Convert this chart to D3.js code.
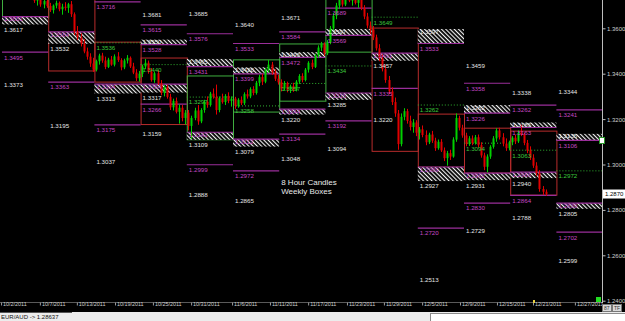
<!DOCTYPE html>
<html>
<head>
<meta charset="utf-8">
<script src="https://cdn.jsdelivr.net/npm/d3@7"></script>
<style>
body { margin: 0; background: #000; }
svg { display: block; }
text { font-family: "Liberation Sans", Arial, sans-serif; }
</style>
</head>
<body>
<svg id="chart" width="625" height="321"></svg>
<script>
// ---- data ----
var barsPerWeek = 15;
var firstBar = 10;

// 8 hour candles [open, high, low, close], starting at bar firstBar
var candles = [
  [1.3760,1.3775,1.3712,1.3722],[1.3722,1.3745,1.3700,1.3738],[1.3738,1.3752,1.3695,1.3705],[1.3705,1.3730,1.3688,1.3720],[1.3720,1.3735,1.3690,1.3698],
  // week 1
  [1.3698,1.3712,1.3672,1.3680],[1.3680,1.3705,1.3665,1.3700],[1.3700,1.3722,1.3688,1.3712],[1.3712,1.3718,1.3675,1.3684],[1.3684,1.3708,1.3660,1.3695],
  [1.3695,1.3715,1.3678,1.3690],[1.3690,1.3712,1.3668,1.3706],[1.3706,1.3720,1.3650,1.3662],[1.3662,1.3670,1.3570,1.3585],[1.3585,1.3610,1.3548,1.3560],
  [1.3560,1.3578,1.3520,1.3532],[1.3532,1.3552,1.3490,1.3498],[1.3498,1.3515,1.3462,1.3475],[1.3475,1.3490,1.3430,1.3445],[1.3445,1.3470,1.3408,1.3418],
  // week 2
  [1.3418,1.3462,1.3410,1.3455],[1.3455,1.3488,1.3440,1.3480],[1.3480,1.3492,1.3448,1.3458],[1.3458,1.3475,1.3420,1.3430],[1.3430,1.3470,1.3425,1.3462],
  [1.3462,1.3478,1.3435,1.3440],[1.3440,1.3485,1.3432,1.3476],[1.3476,1.3495,1.3452,1.3460],[1.3460,1.3468,1.3415,1.3428],[1.3428,1.3466,1.3420,1.3458],
  [1.3458,1.3482,1.3445,1.3470],[1.3470,1.3476,1.3425,1.3432],[1.3432,1.3448,1.3398,1.3405],[1.3405,1.3420,1.3368,1.3380],[1.3380,1.3412,1.3365,1.3400],
  // week 3
  [1.3400,1.3440,1.3385,1.3432],[1.3432,1.3465,1.3420,1.3448],[1.3448,1.3458,1.3400,1.3410],[1.3410,1.3425,1.3365,1.3372],[1.3372,1.3410,1.3360,1.3402],
  [1.3402,1.3415,1.3350,1.3358],[1.3358,1.3372,1.3305,1.3315],[1.3315,1.3350,1.3300,1.3340],[1.3340,1.3352,1.3290,1.3298],[1.3298,1.3312,1.3240,1.3252],
  [1.3252,1.3290,1.3238,1.3280],[1.3280,1.3295,1.3225,1.3232],[1.3232,1.3265,1.3180,1.3250],[1.3250,1.3262,1.3190,1.3205],[1.3205,1.3240,1.3176,1.3228],
  // week 4
  [1.3228,1.3240,1.3150,1.3170],[1.3170,1.3215,1.3112,1.3205],[1.3205,1.3250,1.3195,1.3238],[1.3238,1.3262,1.3175,1.3190],[1.3190,1.3248,1.3182,1.3240],
  [1.3240,1.3285,1.3228,1.3276],[1.3276,1.3300,1.3250,1.3262],[1.3262,1.3320,1.3255,1.3312],[1.3312,1.3335,1.3290,1.3298],[1.3298,1.3352,1.3220,1.3240],
  [1.3240,1.3300,1.3230,1.3292],[1.3292,1.3312,1.3268,1.3275],[1.3275,1.3310,1.3262,1.3302],[1.3302,1.3318,1.3270,1.3280],[1.3280,1.3300,1.3255,1.3290],
  // week 5
  [1.3290,1.3298,1.3245,1.3258],[1.3258,1.3292,1.3250,1.3285],[1.3285,1.3300,1.3262,1.3270],[1.3270,1.3318,1.3262,1.3310],[1.3310,1.3330,1.3290,1.3300],
  [1.3300,1.3340,1.3292,1.3332],[1.3332,1.3345,1.3305,1.3315],[1.3315,1.3368,1.3308,1.3360],[1.3360,1.3395,1.3345,1.3385],[1.3385,1.3400,1.3350,1.3365],
  [1.3365,1.3425,1.3358,1.3418],[1.3418,1.3460,1.3405,1.3440],[1.3440,1.3452,1.3395,1.3405],[1.3405,1.3420,1.3368,1.3378],[1.3378,1.3395,1.3352,1.3362],
  // week 6
  [1.3362,1.3375,1.3322,1.3335],[1.3335,1.3368,1.3325,1.3358],[1.3358,1.3365,1.3318,1.3330],[1.3330,1.3352,1.3315,1.3345],[1.3345,1.3360,1.3320,1.3328],
  [1.3328,1.3372,1.3322,1.3365],[1.3365,1.3398,1.3355,1.3390],[1.3390,1.3402,1.3362,1.3372],[1.3372,1.3425,1.3366,1.3418],[1.3418,1.3455,1.3405,1.3448],
  [1.3448,1.3462,1.3420,1.3430],[1.3430,1.3488,1.3425,1.3480],[1.3480,1.3525,1.3470,1.3515],[1.3515,1.3540,1.3500,1.3530],[1.3530,1.3538,1.3478,1.3490],
  // week 7
  [1.3490,1.3548,1.3482,1.3540],[1.3540,1.3610,1.3530,1.3600],[1.3600,1.3668,1.3590,1.3655],[1.3655,1.3712,1.3640,1.3700],[1.3700,1.3740,1.3685,1.3728],
  [1.3728,1.3745,1.3695,1.3705],[1.3705,1.3738,1.3698,1.3730],[1.3730,1.3760,1.3715,1.3722],[1.3722,1.3750,1.3700,1.3740],[1.3740,1.3755,1.3705,1.3712],
  [1.3712,1.3735,1.3690,1.3725],[1.3725,1.3738,1.3680,1.3690],[1.3690,1.3702,1.3640,1.3652],[1.3652,1.3668,1.3600,1.3612],[1.3612,1.3630,1.3575,1.3595],
  // week 8
  [1.3595,1.3610,1.3548,1.3560],[1.3560,1.3572,1.3502,1.3512],[1.3512,1.3530,1.3455,1.3468],[1.3468,1.3485,1.3410,1.3420],[1.3420,1.3440,1.3360,1.3372],
  [1.3372,1.3390,1.3310,1.3322],[1.3322,1.3340,1.3262,1.3275],[1.3275,1.3295,1.3210,1.3225],[1.3225,1.3240,1.3065,1.3090],[1.3090,1.3225,1.3080,1.3210],
  [1.3210,1.3248,1.3195,1.3235],[1.3235,1.3245,1.3180,1.3192],[1.3192,1.3215,1.3150,1.3165],[1.3165,1.3200,1.3140,1.3185],[1.3185,1.3195,1.3125,1.3140],
  // week 9
  [1.3140,1.3165,1.3110,1.3155],[1.3155,1.3172,1.3120,1.3130],[1.3130,1.3150,1.3085,1.3098],[1.3098,1.3140,1.3090,1.3132],[1.3132,1.3148,1.3095,1.3105],
  [1.3105,1.3118,1.3060,1.3072],[1.3072,1.3110,1.3065,1.3100],[1.3100,1.3112,1.3055,1.3062],[1.3062,1.3075,1.3015,1.3028],[1.3028,1.3060,1.2995,1.3050],
  [1.3050,1.3065,1.3020,1.3035],[1.3035,1.3120,1.3030,1.3110],[1.3110,1.3225,1.3100,1.3205],[1.3205,1.3215,1.3150,1.3162],[1.3162,1.3175,1.3118,1.3128],
  // week 10
  [1.3128,1.3140,1.3080,1.3090],[1.3090,1.3125,1.3082,1.3115],[1.3115,1.3128,1.3085,1.3095],[1.3095,1.3130,1.3088,1.3120],[1.3120,1.3132,1.3075,1.3085],
  [1.3085,1.3098,1.3030,1.3040],[1.3040,1.3052,1.2975,1.2990],[1.2990,1.3045,1.2965,1.3035],[1.3035,1.3085,1.3025,1.3078],[1.3078,1.3125,1.3070,1.3115],
  [1.3115,1.3160,1.3100,1.3150],[1.3150,1.3162,1.3110,1.3120],[1.3120,1.3138,1.3080,1.3092],[1.3092,1.3115,1.3060,1.3072],[1.3072,1.3105,1.3062,1.3098],
  // week 11 (current)
  [1.3098,1.3125,1.3085,1.3118],[1.3118,1.3130,1.3090,1.3102],[1.3102,1.3150,1.3095,1.3140],[1.3140,1.3175,1.3125,1.3132],[1.3132,1.3140,1.3085,1.3095],
  [1.3095,1.3108,1.3050,1.3062],[1.3062,1.3080,1.3020,1.3030],[1.3030,1.3045,1.2985,1.2995],[1.2995,1.3010,1.2950,1.2962],[1.2962,1.2975,1.2880,1.2892],
  [1.2892,1.2905,1.2866,1.2880],[1.2880,1.2890,1.2862,1.2870]
];

// weekly boxes [week, top, bottom, direction]
var weekBoxes = [
  [0,1.3800,1.3650,"up"],[1,1.3740,1.3412,"down"],[2,1.3539,1.3363,"down"],[3,1.3469,1.3176,"down"],
  [4,1.3390,1.3109,"up"],[5,1.3461,1.3231,"up"],[6,1.3531,1.3279,"up"],[7,1.3760,1.3495,"up"],
  [8,1.3601,1.3058,"down"],[9,1.3222,1.2988,"down"],[10,1.3160,1.2962,"down"],[11,1.3147,1.2865,"down"]
];

// hatched zones [week, top, bottom]
var upperZones = [
  [3,1.3550,1.3528],[4,1.3465,1.3431],[5,1.3428,1.3399],[6,1.3495,1.3472],[7,1.3597,1.3569],
  [9,1.3597,1.3533],[10,1.3262,1.3226],[11,1.3185,1.3163],[12,1.3135,1.3106]
];
var lowerZones = [
  [0,1.3651,1.3617],[1,1.3584,1.3532],[2,1.3354,1.3313],[3,1.3354,1.3317],[4,1.3142,1.3109],
  [5,1.3112,1.3079],[6,1.3244,1.3220],[7,1.3315,1.3285],[8,1.3491,1.3457],[9,1.2989,1.2927],
  [10,1.2962,1.2931],[11,1.2966,1.2940],[12,1.2830,1.2805]
];

// magenta level lines [week, value]
var magentaLevels = [
  [0,1.3495],[1,1.3363],[2,1.3716],[2,1.3175],[3,1.3615],[3,1.3266],[4,1.3576],[4,1.2999],
  [5,1.3533],[5,1.2972],[6,1.3584],[6,1.3134],[7,1.3689],[7,1.3192],[8,1.3335],[9,1.2720],
  [10,1.3358],[10,1.2830],[11,1.3262],[11,1.2864],[12,1.3241],[12,1.2702]
];

// white projected levels [week, value]
var whiteLevels = [
  [0,1.3373],[1,1.3195],[2,1.3037],[3,1.3681],[3,1.3159],[4,1.3685],[4,1.2888],[5,1.3640],
  [5,1.2865],[6,1.3671],[6,1.3048],[7,1.3094],[8,1.3220],[9,1.2513],[10,1.3459],[10,1.2729],
  [11,1.3338],[11,1.2788],[12,1.3344],[12,1.2599]
];

// green dotted open levels [week, value]
var openLevels = [
  [2,1.3536],[3,1.3440],[4,1.3297],[5,1.3258],[6,1.3357],[7,1.3434],[8,1.3649],
  [9,1.3262],[10,1.3094],[11,1.3063],[12,1.2972]
];

var priceTicks = [1.24, 1.26, 1.28, 1.30, 1.32, 1.34, 1.36];
var dateLabels = ["10/2/2011","10/7/2011","10/13/2011","10/19/2011","10/25/2011","10/31/2011","11/6/2011","11/11/2011",
  "11/17/2011","11/23/2011","11/29/2011","12/5/2011","12/9/2011","12/15/2011","12/21/2011","12/27/2011"];
var dateTickBars = [-0.3,12.3,24.3,36.7,49,61.4,74.7,87,99.4,112,124,136.4,148.7,160.7,172.4,186];
var lastPrice = 1.2870;
var symbolText = "EUR/AUD -> 1.28637";
var noteLines = ["8 Hour Candles", "Weekly Boxes"];

// ---- chart ----
var plotW = 602, plotH = 303;
var upCol = "#00d000", downCol = "#e00000";
var magLine = "#9a2e9a", magText = "#c447c4", whiteText = "#e4e4e4", greenText = "#3cc83c";

var x = d3.scaleLinear().domain([0, 13 * barsPerWeek]).range([2, 602.6]);
var y = d3.scaleLinear().domain([1.24, 1.36]).range([300.7, 28.3]);

function wx0(w) { return x(w * barsPerWeek); }
function wx1(w) { return x((w + 1) * barsPerWeek); }

var svg = d3.select("#chart");
svg.append("rect").attr("width", 625).attr("height", 321).attr("fill", "#000");

var defs = svg.append("defs");
defs.append("clipPath").attr("id", "plot")
    .append("rect").attr("width", plotW).attr("height", plotH);
var pat = defs.append("pattern").attr("id", "hatch")
    .attr("width", 3).attr("height", 3)
    .attr("patternUnits", "userSpaceOnUse")
    .attr("patternTransform", "rotate(-45)");
pat.append("rect").attr("width", 3).attr("height", 3).attr("fill", "#000");
pat.append("line").attr("x1", 0.6).attr("y1", 0).attr("x2", 0.6).attr("y2", 3)
    .attr("stroke", "#fff").attr("stroke-width", 1.1);

var g = svg.append("g").attr("clip-path", "url(#plot)");

// weekly boxes
g.selectAll(".box").data(weekBoxes).join("rect")
    .attr("class", "box")
    .attr("x", function(d) { return wx0(d[0]) + 0.5; })
    .attr("y", function(d) { return y(d[1]); })
    .attr("width", function(d) { return wx1(d[0]) - wx0(d[0]); })
    .attr("height", function(d) { return y(d[2]) - y(d[1]); })
    .attr("fill", "none")
    .attr("stroke", function(d) { return d[3] === "up" ? "#3fae3f" : "#b82c2c"; })
    .attr("stroke-width", 1);

// open levels (dotted green)
g.selectAll(".open").data(openLevels).join("line")
    .attr("class", "open")
    .attr("x1", function(d) { return wx0(d[0]); })
    .attr("x2", function(d) { return wx1(d[0]); })
    .attr("y1", function(d) { return y(d[1]); })
    .attr("y2", function(d) { return y(d[1]); })
    .attr("stroke", "#2fb02f").attr("stroke-dasharray", "1,2");

// hatched zones
var zones = upperZones.map(function(d) { return { w: d[0], top: d[1], bot: d[2], upper: true }; })
    .concat(lowerZones.map(function(d) { return { w: d[0], top: d[1], bot: d[2], upper: false }; }));

g.selectAll(".zone").data(zones).join("rect")
    .attr("class", "zone")
    .attr("x", function(d) { return wx0(d.w); })
    .attr("y", function(d) { return y(d.top); })
    .attr("width", function(d) { return wx1(d.w) - wx0(d.w); })
    .attr("height", function(d) { return y(d.bot) - y(d.top); })
    .attr("fill", "url(#hatch)");

g.selectAll(".zoneEdge").data(zones).join("line")
    .attr("class", "zoneEdge")
    .attr("x1", function(d) { return wx0(d.w); })
    .attr("x2", function(d) { return wx1(d.w); })
    .attr("y1", function(d) { return y(d.upper ? d.bot : d.top); })
    .attr("y2", function(d) { return y(d.upper ? d.bot : d.top); })
    .attr("stroke", magLine).attr("stroke-width", 1.2);

// magenta lines
g.selectAll(".mag").data(magentaLevels).join("line")
    .attr("class", "mag")
    .attr("x1", function(d) { return wx0(d[0]); })
    .attr("x2", function(d) { return wx1(d[0]); })
    .attr("y1", function(d) { return y(d[1]); })
    .attr("y2", function(d) { return y(d[1]); })
    .attr("stroke", magLine).attr("stroke-width", 1.2);

// candles
var cg = g.selectAll(".candle").data(candles).join("g").attr("class", "candle");
cg.append("line")
    .attr("x1", function(d, i) { return Math.round(x(firstBar + i + 0.5)) + 0.5; })
    .attr("x2", function(d, i) { return Math.round(x(firstBar + i + 0.5)) + 0.5; })
    .attr("y1", function(d) { return y(d[1]); })
    .attr("y2", function(d) { return y(d[2]); })
    .attr("stroke", function(d) { return d[3] >= d[0] ? upCol : downCol; });
cg.append("rect")
    .attr("x", function(d, i) { return Math.round(x(firstBar + i + 0.5)) - 0.5; })
    .attr("y", function(d) { return y(Math.max(d[0], d[3])); })
    .attr("width", 2)
    .attr("height", function(d) { return Math.max(1, Math.abs(y(d[0]) - y(d[3]))); })
    .attr("fill", function(d) { return d[3] >= d[0] ? upCol : downCol; });

// level labels; inside = label sits inside a hatched zone, just under its top
function addLabels(data, val, color, inside) {
    g.selectAll(null).data(data).join("text")
        .attr("x", function(d) { return wx0(d[0]) + 2; })
        .attr("y", function(d) { return y(val(d)) + (inside ? 4.6 : 7.4); })
        .attr("font-size", "6.2px")
        .attr("fill", color)
        .text(function(d) { return d3.format(".4f")(val(d)); });
}
addLabels(magentaLevels, function(d) { return d[1]; }, magText, false);
addLabels(whiteLevels, function(d) { return d[1]; }, whiteText, false);
addLabels(openLevels, function(d) { return d[1]; }, greenText, false);
addLabels(upperZones, function(d) { return d[1]; }, whiteText, true);
addLabels(upperZones, function(d) { return d[2]; }, magText, false);
addLabels(lowerZones, function(d) { return d[1]; }, magText, true);
addLabels(lowerZones, function(d) { return d[2]; }, whiteText, false);

// note
g.selectAll(".note").data(noteLines).join("text")
    .attr("class", "note")
    .attr("x", wx0(6) + 2)
    .attr("y", function(d, i) { return y(1.2908) + i * 8.5; })
    .attr("font-size", "8px")
    .attr("fill", "#e8e8e8")
    .text(function(d) { return d; });

// right price axis
svg.append("line").attr("x1", 602.5).attr("x2", 602.5).attr("y1", 0).attr("y2", 303)
    .attr("stroke", "#bdbdbd");
var yAxis = svg.append("g")
    .attr("transform", "translate(602.5,0)")
    .call(d3.axisRight(y).tickValues(priceTicks).tickFormat(d3.format(".4f")).tickSize(3).tickPadding(1.5));
yAxis.select(".domain").remove();
yAxis.selectAll("line").attr("stroke", "#bdbdbd");
yAxis.selectAll("text").attr("fill", "#d0d0d0").attr("font-size", "6px")
    .attr("font-family", "Liberation Sans, Arial, sans-serif");

// last price tag
svg.append("rect").attr("x", 603).attr("y", y(lastPrice) - 4.5).attr("width", 22).attr("height", 9)
    .attr("fill", "#fff");
svg.append("text").attr("x", 605).attr("y", y(lastPrice) + 2.2).attr("font-size", "6px")
    .attr("fill", "#000").text(d3.format(".4f")(lastPrice));

// bottom date axis
svg.append("line").attr("x1", 0).attr("x2", 602).attr("y1", 302.5).attr("y2", 302.5)
    .attr("stroke", "#5a5a5a");
var xAxis = svg.append("g")
    .attr("transform", "translate(0,302.5)")
    .call(d3.axisBottom(x).tickValues(dateTickBars)
        .tickFormat(function(d, i) { return dateLabels[i]; }).tickSize(3).tickPadding(1));
xAxis.select(".domain").remove();
xAxis.selectAll("line").attr("stroke", "#9a9a9a");
xAxis.selectAll("text").attr("fill", "#cfcfcf").attr("font-size", "5.4px")
    .attr("text-anchor", "start").attr("dx", "1.5px").attr("dy", "-1px")
    .attr("font-family", "Liberation Sans, Arial, sans-serif");

// small markers on the axes
svg.append("rect").attr("x", 533).attr("y", 300).attr("width", 2).attr("height", 3).attr("fill", "#e8d040");
svg.append("rect").attr("x", 596).attr("y", 297).attr("width", 5).attr("height", 5).attr("fill", "#22dd22");
svg.append("rect").attr("x", 599.5).attr("y", 137.5).attr("width", 5).attr("height", 6)
    .attr("fill", "#fff").attr("stroke", "#2a9a2a");
["87", "TF"].forEach(function(t, i) {
    svg.append("rect").attr("x", 602.5 + i * 10).attr("y", 304.5).attr("width", 9).attr("height", 7)
        .attr("fill", "#d8d8d8").attr("stroke", "#777");
    svg.append("text").attr("x", 604 + i * 10).attr("y", 310).attr("font-size", "5px")
        .attr("fill", "#333").text(t);
});

// status bar
svg.append("rect").attr("x", 0).attr("y", 312).attr("width", 625).attr("height", 9).attr("fill", "#ececec");
svg.append("line").attr("x1", 0).attr("x2", 72).attr("y1", 312.5).attr("y2", 312.5).attr("stroke", "#555");
svg.append("rect").attr("x", 430.5).attr("y", 313.5).attr("width", 195).attr("height", 8)
    .attr("fill", "#fff").attr("stroke", "#8a8a8a");
svg.append("text").attr("x", 1).attr("y", 319).attr("font-size", "6px").attr("fill", "#111").text(symbolText);
</script>
</body>
</html>
